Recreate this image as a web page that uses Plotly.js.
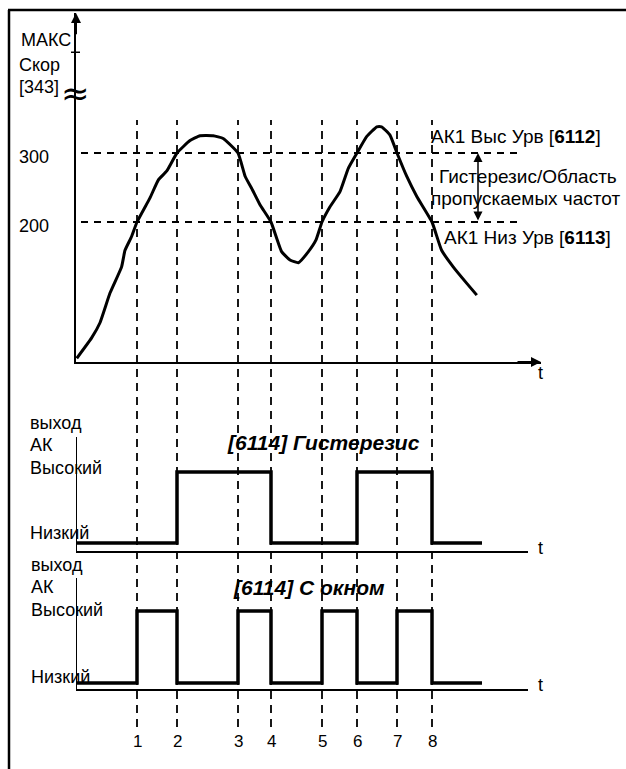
<!DOCTYPE html>
<html>
<head>
<meta charset="utf-8">
<script src="https://cdn.plot.ly/plotly-3.0.1.min.js"></script>
<style>html,body{margin:0;padding:0;background:#fff;}#chart{width:626px;height:769px;}</style>
</head>
<body>
<div id="chart"></div>
<script>
// ---- data ----
const eventTimes = [1.525, 2.525, 4.05, 4.875, 6.15, 7.025, 8.025, 8.9];
const eventLabels = ['1', '2', '3', '4', '5', '6', '7', '8'];

const speedTime = [0.02, 0.39, 0.6, 0.85, 1.14, 1.225, 1.39, 1.525, 1.85, 2.06, 2.27, 2.525,
  2.85, 3.1, 3.43, 3.68, 4.05, 4.23, 4.39, 4.6, 4.875, 5.14, 5.35, 5.56, 5.81, 6.0, 6.15,
  6.35, 6.6, 6.81, 7.025, 7.27, 7.52, 7.64, 7.85, 8.025, 8.27, 8.52, 8.9, 9.14, 9.43, 9.77, 10.02];
const speedValue = [2.5, 32, 54, 97, 135, 159, 179, 200, 235, 261, 274, 300,
  318, 325, 325, 321, 300, 266, 249, 225, 200, 157, 145, 141, 157, 174, 200,
  222, 244, 278, 300, 324, 338, 338, 326, 300, 266, 237, 200, 159, 135, 111, 94];

const thresholdLevels = [300, 200];
const thresholdLabels = ['300', '200'];
const thresholdSpan = [0.125, 11.03];
const maxSpeedLevel = 446;

const hystTime = [-0.1, 2.525, 4.875, 7.025, 8.9, 10.15];
const hystState = [0, 1, 0, 1, 0, 0];
const windowTime = [-0.1, 1.525, 2.525, 4.05, 4.875, 6.15, 7.025, 8.025, 8.9, 10.15];
const windowState = [0, 1, 0, 1, 0, 1, 0, 1, 0, 0];

// ---- helpers ----
const W = 626, H = 769;
const px = x => x / W;
const py = y => 1 - y / H;
const FONT = 'Liberation Sans, Arial, sans-serif';

const traces = [];
thresholdLevels.forEach(lv => {
  traces.push({x: thresholdSpan, y: [lv, lv], xaxis: 'x', yaxis: 'y', mode: 'lines',
    line: {color: '#000', width: 1.8, dash: '7px,6px'}, hoverinfo: 'skip'});
});
traces.push({x: speedTime, y: speedValue, xaxis: 'x', yaxis: 'y', mode: 'lines',
  line: {color: '#000', width: 3, shape: 'spline', smoothing: 0.4}});
traces.push({x: hystTime, y: hystState, xaxis: 'x2', yaxis: 'y2', mode: 'lines',
  line: {color: '#000', width: 3.5, shape: 'hv'}, cliponaxis: false});
traces.push({x: windowTime, y: windowState, xaxis: 'x3', yaxis: 'y3', mode: 'lines',
  line: {color: '#000', width: 3.5, shape: 'hv'}, cliponaxis: false});

const shapes = [];
// vertical event lines spanning the whole figure
eventTimes.forEach(t => {
  shapes.push({type: 'line', xref: 'x', yref: 'paper', x0: t, x1: t, y0: py(727), y1: py(120),
    line: {color: '#000', width: 1.8, dash: '8px,6px'}});
});
// frame
shapes.push({type: 'line', xref: 'paper', yref: 'paper', x0: px(8), x1: 1, y0: py(10), y1: py(10), line: {color: '#000', width: 2.5}});
shapes.push({type: 'line', xref: 'paper', yref: 'paper', x0: px(9), x1: px(9), y0: py(10), y1: 0, line: {color: '#000', width: 2.5}});
// max tick
shapes.push({type: 'line', xref: 'paper', yref: 'y', x0: px(71), x1: px(80), y0: maxSpeedLevel, y1: maxSpeedLevel, line: {color: '#000', width: 1.5}});

const ann = [];
const txt = (text, x, y, xanchor, size, extra) => Object.assign({
  text: text, xref: 'paper', yref: 'paper', x: px(x), y: py(y), xanchor: xanchor || 'left', yanchor: 'middle',
  showarrow: false, font: {family: FONT, size: size || 18, color: '#000'}}, extra || {});

ann.push(txt('МАКС', 73, 40, 'right'));
ann.push(txt('Скор', 17, 65));
ann.push(txt('[343]', 17, 87));
ann.push(txt('≈', 75, 93, 'center', 34, {font: {family: 'DejaVu Sans', size: 34, color: '#000'}}));
thresholdLevels.forEach((lv, i) => {
  ann.push({text: thresholdLabels[i], xref: 'paper', yref: 'y', x: px(17), y: lv, yshift: -4,
    xanchor: 'left', yanchor: 'middle', showarrow: false, font: {family: FONT, size: 18, color: '#000'}});
});
ann.push(txt('АК1 Выс Урв [<b>6112</b>]', 429, 137, 'left', 19));
ann.push(txt('Гистерезис/Область', 437, 177, 'left', 19));
ann.push(txt('пропускаемых частот', 429, 198, 'left', 19));
ann.push(txt('АК1 Низ Урв [<b>6113</b>]', 442, 237, 'left', 19));
ann.push({text: '', x: 10.05, y: thresholdLevels[0], ax: 10.05, ay: thresholdLevels[1], xref: 'x', yref: 'y',
  axref: 'x', ayref: 'y', showarrow: true, arrowhead: 2, startarrowhead: 2, arrowside: 'end+start',
  arrowsize: 1.2, arrowwidth: 1.5, arrowcolor: '#000'});
// axis arrows (top panel)
ann.push({text: '', x: 0, y: 502.9, ax: 0, ay: 470, xref: 'x', yref: 'y', axref: 'x', ayref: 'y',
  showarrow: true, arrowhead: 2, arrowsize: 1, arrowwidth: 2, arrowcolor: '#000'});
ann.push({text: '', x: 11.625, y: -2.9, ax: 11.0, ay: -2.9, xref: 'x', yref: 'y', axref: 'x', ayref: 'y',
  showarrow: true, arrowhead: 2, arrowsize: 1, arrowwidth: 2, arrowcolor: '#000'});
ann.push(txt('t', 540, 373, 'center'));
// middle panel
ann.push(txt('выход', 28, 423));
ann.push(txt('АК', 28, 445));
ann.push(txt('Высокий', 28, 468));
ann.push(txt('Низкий', 28, 533));
ann.push(txt('<b><i>[6114] Гистерезис</i></b>', 324, 442, 'center', 21));
ann.push(txt('t', 540, 548, 'center'));
// bottom panel
ann.push(txt('выход', 29, 565));
ann.push(txt('АК', 29, 587));
ann.push(txt('Высокий', 29, 610));
ann.push(txt('Низкий', 29, 677));
ann.push(txt('<b><i>[6114] С окном</i></b>', 309, 587, 'center', 21));
ann.push(txt('t', 540, 685, 'center'));
eventTimes.forEach((t, i) => {
  ann.push({text: eventLabels[i], xref: 'x', yref: 'paper', x: t, y: py(741), xanchor: 'center', yanchor: 'middle',
    showarrow: false, font: {family: FONT, size: 17, color: '#000'}});
});

const axBase = {showgrid: false, zeroline: false, showticklabels: false, ticks: '', showline: true, linecolor: '#000', fixedrange: true};

const layout = {
  width: W, height: H,
  margin: {l: 0, r: 0, t: 0, b: 0},
  paper_bgcolor: '#fff', plot_bgcolor: 'rgba(0,0,0,0)',
  showlegend: false,
  font: {family: FONT, size: 18, color: '#000'},
  xaxis: Object.assign({}, axBase, {domain: [px(76), px(541)], range: [0, 11.625], anchor: 'y', linewidth: 2}),
  yaxis: Object.assign({}, axBase, {domain: [py(362), py(13)], range: [-2.9, 502.9], anchor: 'x', linewidth: 2}),
  xaxis2: Object.assign({}, axBase, {domain: [px(77), px(528)], range: [0.025, 11.3], anchor: 'y2', linewidth: 1.5}),
  yaxis2: Object.assign({}, axBase, {domain: [py(551), py(437)], range: [-0.1127, 1.493], anchor: 'x2', linewidth: 1.5}),
  xaxis3: Object.assign({}, axBase, {domain: [px(77), px(528)], range: [0.025, 11.3], anchor: 'y3', linewidth: 1.5}),
  yaxis3: Object.assign({}, axBase, {domain: [py(689), py(578)], range: [-0.0833, 1.4583], anchor: 'x3', linewidth: 1.5}),
  shapes: shapes,
  annotations: ann
};

Plotly.newPlot('chart', traces, layout, {displayModeBar: false, staticPlot: true});
</script>
</body>
</html>
